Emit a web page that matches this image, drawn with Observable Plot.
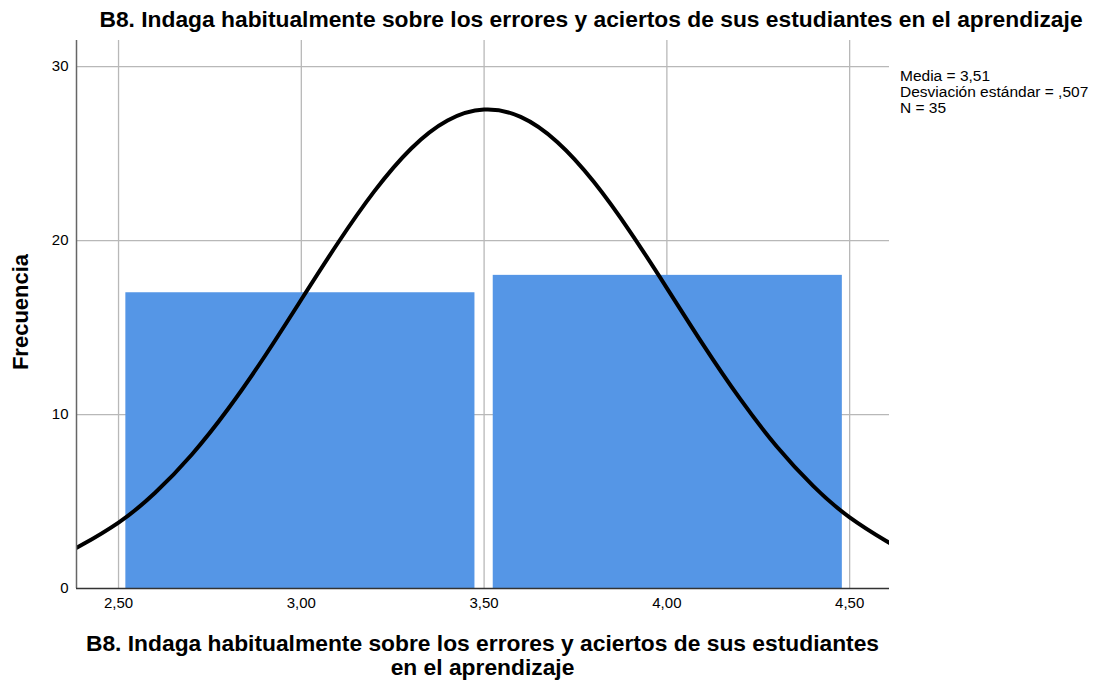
<!DOCTYPE html>
<html>
<head>
<meta charset="utf-8">
<script src="https://cdn.jsdelivr.net/npm/d3@7"></script>
<script src="https://cdn.jsdelivr.net/npm/@observablehq/plot@0.6"></script>
<style>
  body { margin: 0; background: #fff; font-family: "Liberation Sans", Arial, sans-serif; }
  #wrap { position: relative; width: 1094px; height: 686px; }
  #title { position: absolute; left: 0; width: 1094px; top: 8px; text-align: center; font-weight: bold; font-size: 22.8px; line-height: 23px; padding-left: 88px; box-sizing: border-box; white-space: nowrap; }
  #chart { position: absolute; left: 0; top: 40px; }
  #xlabel { position: absolute; left: 76px; width: 813px; top: 631px; text-align: center; font-weight: bold; font-size: 22.8px; line-height: 24px; white-space: nowrap; }
  #ylabel { position: absolute; left: 21px; top: 312px; transform: translate(-50%, -50%) rotate(-90deg); font-weight: bold; font-size: 22px; line-height: 22px; white-space: nowrap; }
  #legend { position: absolute; left: 900px; top: 68px; font-size: 15.5px; line-height: 16px; white-space: nowrap; }
</style>
</head>
<body>
<div id="wrap">
  <div id="title">B8. Indaga habitualmente sobre los errores y aciertos de sus estudiantes en el aprendizaje</div>
  <div id="chart"></div>
  <div id="ylabel">Frecuencia</div>
  <div id="xlabel">B8. Indaga habitualmente sobre los errores y aciertos de sus estudiantes<br>en el aprendizaje</div>
  <div id="legend"></div>
</div>
<script>
// Histogram bins (value ranges) and frequencies
const binStart = [2.52, 3.525];
const binEnd = [3.475, 4.48];
const frequency = [17, 18];

// Summary statistics shown in the legend
const statLines = ["Media = 3,51", "Desviación estándar = ,507", "N = 35"];

// Normal curve points
const curveX = [2.385, 2.4, 2.5, 2.6, 2.7, 2.8, 2.9, 3.0, 3.1, 3.2, 3.3, 3.4, 3.5, 3.6, 3.7, 3.8, 3.9, 4.0, 4.1, 4.2, 4.3, 4.4, 4.5, 4.6, 4.61];
const curveY = [2.35, 2.51, 3.79, 5.50, 7.69, 10.33, 13.35, 16.61, 19.86, 22.84, 25.28, 26.90, 27.53, 27.11, 25.67, 23.38, 20.49, 17.27, 13.99, 10.91, 8.18, 5.90, 4.09, 2.73, 2.62];

// Tick labels
const xTicks = [2.5, 3.0, 3.5, 4.0, 4.5];
const xTickLabels = ["2,50", "3,00", "3,50", "4,00", "4,50"];
const yTicks = [0, 10, 20, 30];

const bars = binStart.map((s, i) => ({x1: s, x2: binEnd[i], y: frequency[i]}));
const curve = curveX.map((x, i) => ({x, y: curveY[i]}));

const xDomain = [2.385, 4.609];
const yDomain = [0, 31.5];

const chart = Plot.plot({
  width: 1094,
  height: 646,
  marginLeft: 76,
  marginRight: 205,
  marginTop: 0,
  marginBottom: 98,
  style: {fontFamily: "'Liberation Sans', Arial, sans-serif", fontSize: "15px", color: "#000"},
  x: {domain: xDomain, label: null},
  y: {domain: yDomain, label: null},
  marks: [
    Plot.ruleX(xTicks, {stroke: "#b8b8b8", strokeWidth: 1.3}),
    Plot.ruleY(yTicks.filter(d => d > 0), {stroke: "#b8b8b8", strokeWidth: 1.3}),
    Plot.rectY(bars, {x1: "x1", x2: "x2", y: "y", fill: "#5596e6"}),
    Plot.line(curve, {x: "x", y: "y", stroke: "#000", strokeWidth: 4, curve: "natural", clip: true}),
    Plot.ruleX([xDomain[0]], {stroke: "#666", strokeWidth: 1.5}),
    Plot.ruleY([0], {stroke: "#333", strokeWidth: 1.3}),
    Plot.axisX(xTicks, {tickSize: 0, tickPadding: 9, tickFormat: (d, i) => xTickLabels[i], fontSize: 15, label: null}),
    Plot.axisY(yTicks, {tickSize: 0, tickPadding: 8, fontSize: 15, label: null})
  ]
});
document.getElementById("chart").appendChild(chart);
document.getElementById("legend").innerHTML = statLines.join("<br>");
</script>
</body>
</html>
